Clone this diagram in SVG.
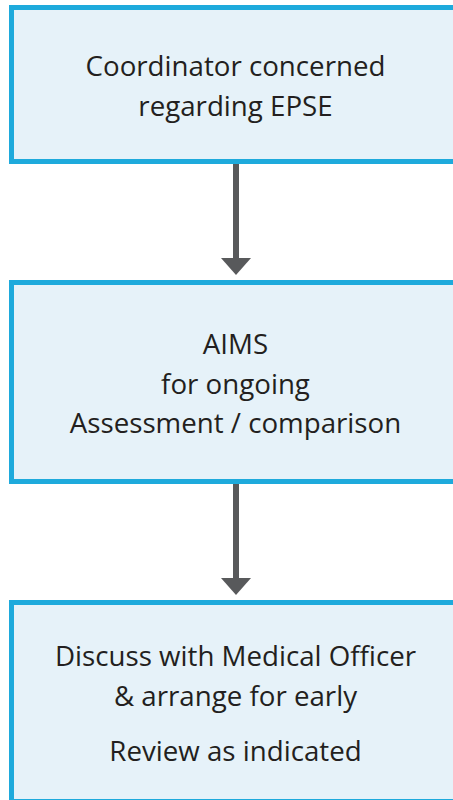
<svg xmlns="http://www.w3.org/2000/svg" width="453" height="800" viewBox="0 0 453 800">
<defs>
<style>
.box{fill:#E6F2F9;stroke:#1EAADC;stroke-width:5}
.t{font-family:"Open Sans","Liberation Sans",sans-serif;font-size:27.7px;fill:#231F20;text-anchor:middle}
.line{stroke:#58595B;stroke-width:6;fill:none}
.head{fill:#58595B}
</style>
</defs>
<rect width="453" height="800" fill="#FFFFFF"/>
<g id="connectors">
<line class="line" x1="236" y1="164" x2="236" y2="262"/>
<polygon class="head" points="221,258 251,258 236,275"/>
<line class="line" x1="236" y1="484" x2="236" y2="582"/>
<polygon class="head" points="221,578 251,578 236,595"/>
</g>
<g id="node1">
<rect class="box" x="11.5" y="7.5" width="460" height="154"/>
<text class="t" x="235.5" y="76">Coordinator concerned</text>
<text class="t" x="235.5" y="116">regarding EPSE</text>
</g>
<g id="node2">
<rect class="box" x="11.5" y="282.5" width="460" height="199"/>
<text class="t" x="235.5" y="354">AIMS</text>
<text class="t" x="235.5" y="394">for ongoing</text>
<text class="t" x="235.5" y="433">Assessment / comparison</text>
</g>
<g id="node3">
<rect class="box" x="11.5" y="602.5" width="460" height="199"/>
<text class="t" x="235.5" y="666">Discuss with Medical Officer</text>
<text class="t" x="235.5" y="706">&amp; arrange for early</text>
<text class="t" x="235.5" y="761">Review as indicated</text>
</g>
</svg>
